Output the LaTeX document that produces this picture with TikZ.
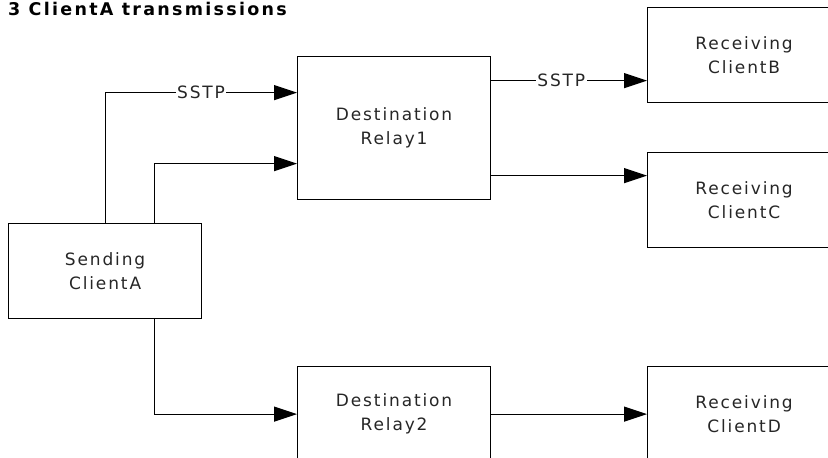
\documentclass[tikz,border=0pt]{standalone}
\usepackage{fontspec}
\setmainfont{DejaVu Sans}
\newfontfamily\bodyfont[LetterSpace=11]{DejaVu Sans}
\newfontfamily\titlefont[LetterSpace=13]{DejaVu Sans}
\usetikzlibrary{arrows.meta}
\tikzset{
  box/.style={draw, line width=1.2pt, minimum width=193pt, minimum height=95pt, inner sep=0pt, align=center, anchor=north west, font=\bodyfont\fontsize{17}{24}\selectfont, text=black!85},
  arr/.style={line width=1.2pt, -{Triangle[length=23pt,width=15pt]}},
  lbl/.style={fill=white, inner sep=1.5pt, font=\bodyfont\fontsize{17}{18}\selectfont, text=black!85}
}
\begin{document}
\begin{tikzpicture}[x=1pt,y=-1pt]
\useasboundingbox (0,0) rectangle (828,458);
\clip (0,0) rectangle (828,458);
\node[anchor=base west, inner sep=0pt, font=\titlefont\bfseries\fontsize{17.5}{18}\selectfont] (T) at (8,15.5) {3 ClientA transmissions};
\node[box] (A) at (8,223) {Sending\\ClientA};
\node[box, minimum height=143pt] (R1) at (297,56) {Destination\\Relay1};
\node[box] (R2) at (297,366) {Destination\\Relay2};
\node[box] (B) at (647,7) {Receiving\\ClientB};
\node[box] (C) at (647,152) {Receiving\\ClientC};
\node[box] (D) at (647,366) {Receiving\\ClientD};
\draw[arr] (A.north) |- node[lbl,pos=.75]{SSTP} ([yshift=35.5pt]R1.west);
\draw[arr] ([xshift=49pt]A.north) |- ([yshift=-35.5pt]R1.west);
\draw[arr] ([xshift=49pt]A.south) |- (R2.west);
\draw[arr] ([yshift=47.5pt]R1.east) -- node[lbl,pos=.45]{SSTP} ([yshift=47.5pt]R1.east -| B.west);
\draw[arr] ([yshift=-47.5pt]R1.east) -- ([yshift=-47.5pt]R1.east -| C.west);
\draw[arr] (R2.east) -- (D.west);
\end{tikzpicture}
\end{document}
